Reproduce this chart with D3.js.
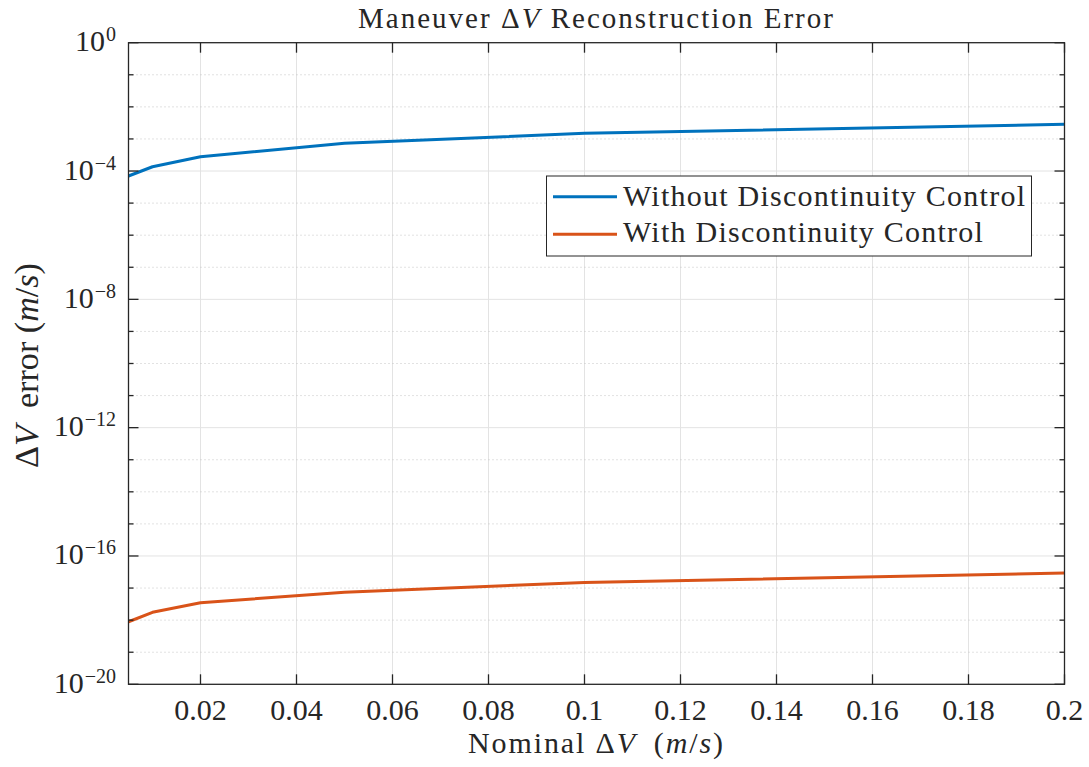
<!DOCTYPE html>
<html>
<head>
<meta charset="utf-8">
<script src="https://cdn.jsdelivr.net/npm/d3@7"></script>
<style>
  html, body { margin: 0; padding: 0; background: #fff; }
  svg { display: block; }
  text { font-family: "Liberation Serif", "Times New Roman", serif; fill: #262626; }
</style>
</head>
<body>
<svg id="chart" width="1089" height="767"></svg>
<script>
// ---------- data ----------
const nominalDV = [0.005, 0.01, 0.02, 0.05, 0.1, 0.2];
const errWithout = [7.0e-5, 1.36e-4, 2.8e-4, 7.3e-4, 1.5e-3, 2.86e-3];
const errWith = [8.9e-19, 1.75e-18, 3.5e-18, 7.4e-18, 1.5e-17, 2.95e-17];
const seriesNames = ["Without Discontinuity Control", "With Discontinuity Control"];
const seriesColors = ["#0072BD", "#D95319"];
const xTicks = [0.02, 0.04, 0.06, 0.08, 0.1, 0.12, 0.14, 0.16, 0.18, 0.2];
const xTickLabels = ["0.02", "0.04", "0.06", "0.08", "0.1", "0.12", "0.14", "0.16", "0.18", "0.2"];
const yMajorExp = [0, -4, -8, -12, -16, -20];
const yMinorExp = d3.range(-19, 0).filter(e => e % 4 !== 0);
const xDomain = [0.005, 0.2];
const yDomain = [1e-20, 1];

// ---------- layout ----------
const L = 128.5, R = 1064.5, T = 42.7, B = 684.3;
const svg = d3.select("#chart");
const x = d3.scaleLinear().domain(xDomain).range([L, R]);
const y = d3.scaleLog().domain(yDomain).range([B, T]);
const axisColor = "#262626";

// widen text to a target width with letter spacing (keeps glyph height)
function fitSpacing(sel, target) {
  const w = sel.node().getComputedTextLength();
  const n = sel.text().length;
  const ls = Math.max(0, (target - w) / Math.max(1, n - 1));
  sel.attr("letter-spacing", ls);
  return ls;
}
function fitWidth(sel, target, base) {
  const w = sel.node().getComputedTextLength();
  const fs = base * target / w;
  sel.attr("font-size", fs);
  return fs;
}

// ---------- grid ----------
const grid = svg.append("g");
grid.selectAll("line.vx").data(xTicks.filter(d => d < xDomain[1])).join("line")
  .attr("x1", d => x(d)).attr("x2", d => x(d)).attr("y1", T).attr("y2", B)
  .attr("stroke", "#e3e3e3").attr("stroke-width", 1);
grid.selectAll("line.hmaj").data(yMajorExp.filter(e => e > -20 && e < 0)).join("line")
  .attr("x1", L).attr("x2", R).attr("y1", e => y(Math.pow(10, e))).attr("y2", e => y(Math.pow(10, e)))
  .attr("stroke", "#e3e3e3").attr("stroke-width", 1);
grid.selectAll("line.hmin").data(yMinorExp).join("line")
  .attr("x1", L).attr("x2", R).attr("y1", e => y(Math.pow(10, e))).attr("y2", e => y(Math.pow(10, e)))
  .attr("stroke", "#c4c4c4").attr("stroke-width", 1).attr("stroke-dasharray", "1,3");

// ---------- lines ----------
const line = d3.line().x(d => x(d[0])).y(d => y(d[1]));
const seriesData = [errWithout, errWith];
svg.append("defs").append("clipPath").attr("id", "clip")
  .append("rect").attr("x", L).attr("y", T).attr("width", R - L).attr("height", B - T);
seriesData.forEach((vals, i) => {
  svg.append("path")
    .datum(nominalDV.map((d, j) => [d, vals[j]]))
    .attr("d", line)
    .attr("fill", "none")
    .attr("stroke", seriesColors[i])
    .attr("stroke-width", 3)
    .attr("stroke-linejoin", "round")
    .attr("clip-path", "url(#clip)");
});

// ---------- axes box & ticks ----------
const ax = svg.append("g");
ax.append("rect").attr("x", L).attr("y", T).attr("width", R - L).attr("height", B - T)
  .attr("fill", "none").attr("stroke", axisColor).attr("stroke-width", 1.3);
xTicks.forEach(t => {
  ax.append("line").attr("x1", x(t)).attr("x2", x(t)).attr("y1", B).attr("y2", B - 10)
    .attr("stroke", axisColor).attr("stroke-width", 1.3);
  ax.append("line").attr("x1", x(t)).attr("x2", x(t)).attr("y1", T).attr("y2", T + 10)
    .attr("stroke", axisColor).attr("stroke-width", 1.3);
});
d3.range(-20, 1).forEach(e => {
  const yy = y(Math.pow(10, e));
  const len = (e % 4 === 0) ? 10 : 5;
  ax.append("line").attr("x1", L).attr("x2", L + len).attr("y1", yy).attr("y2", yy)
    .attr("stroke", axisColor).attr("stroke-width", 1.3);
  ax.append("line").attr("x1", R).attr("x2", R - len).attr("y1", yy).attr("y2", yy)
    .attr("stroke", axisColor).attr("stroke-width", 1.3);
});

// x tick labels
svg.selectAll("text.xt").data(xTicks).join("text")
  .attr("class", "xt")
  .attr("x", d => x(d)).attr("y", 720)
  .attr("text-anchor", "middle").attr("font-size", 30)
  .text((d, i) => xTickLabels[i]);

// y tick labels
yMajorExp.forEach(e => {
  const t = svg.append("text")
    .attr("x", 116).attr("y", y(Math.pow(10, e)) + 8.5)
    .attr("text-anchor", "end").attr("font-size", 30);
  t.append("tspan").text("10");
  t.append("tspan").attr("dx", 1).attr("dy", -10).attr("font-size", 20)
    .text(e === 0 ? "0" : "\u2212" + Math.abs(e));
});

// ---------- title & labels ----------
const title = svg.append("text").attr("x", (L + R) / 2).attr("y", 28)
  .attr("text-anchor", "middle").attr("font-size", 29);
title.append("tspan").text("Maneuver \u0394");
title.append("tspan").attr("font-style", "italic").text("V");
title.append("tspan").text(" Reconstruction Error");
fitSpacing(title, 475);

const xl = svg.append("text").attr("x", (L + R) / 2).attr("y", 753)
  .attr("text-anchor", "middle").attr("font-size", 30);
xl.append("tspan").text("Nominal \u0394");
xl.append("tspan").attr("font-style", "italic").text("V");
xl.append("tspan").text("\u2002(");
xl.append("tspan").attr("font-style", "italic").text("m");
xl.append("tspan").text("/");
xl.append("tspan").attr("font-style", "italic").text("s");
xl.append("tspan").text(")");
fitSpacing(xl, 255);

const yl = svg.append("text")
  .attr("transform", `translate(38, ${(T + B) / 2 + 2}) rotate(-90)`)
  .attr("text-anchor", "middle").attr("font-size", 32);
yl.append("tspan").text("\u0394");
yl.append("tspan").attr("font-style", "italic").text("V");
yl.append("tspan").text("\u2002error (");
yl.append("tspan").attr("font-style", "italic").text("m");
yl.append("tspan").text("/");
yl.append("tspan").attr("font-style", "italic").text("s");
yl.append("tspan").text(")");
fitWidth(yl, 205, 32);

// ---------- legend ----------
const lg = svg.append("g");
lg.append("rect").attr("x", 546.5).attr("y", 176).attr("width", 485).attr("height", 80)
  .attr("fill", "#fff").attr("stroke", axisColor).attr("stroke-width", 1);
const lineY = [196.7, 234.3];
const textY = [205.7, 241.7];
let legendLs = 0;
seriesNames.forEach((name, i) => {
  lg.append("line").attr("x1", 553).attr("x2", 617).attr("y1", lineY[i]).attr("y2", lineY[i])
    .attr("stroke", seriesColors[i]).attr("stroke-width", 3);
  const t = lg.append("text").attr("class", "lgt").attr("x", 623).attr("y", textY[i])
    .attr("font-size", 30).text(name);
  if (i === 0) legendLs = fitSpacing(t, 402);
  else t.attr("letter-spacing", legendLs);
});
</script>
</body>
</html>
